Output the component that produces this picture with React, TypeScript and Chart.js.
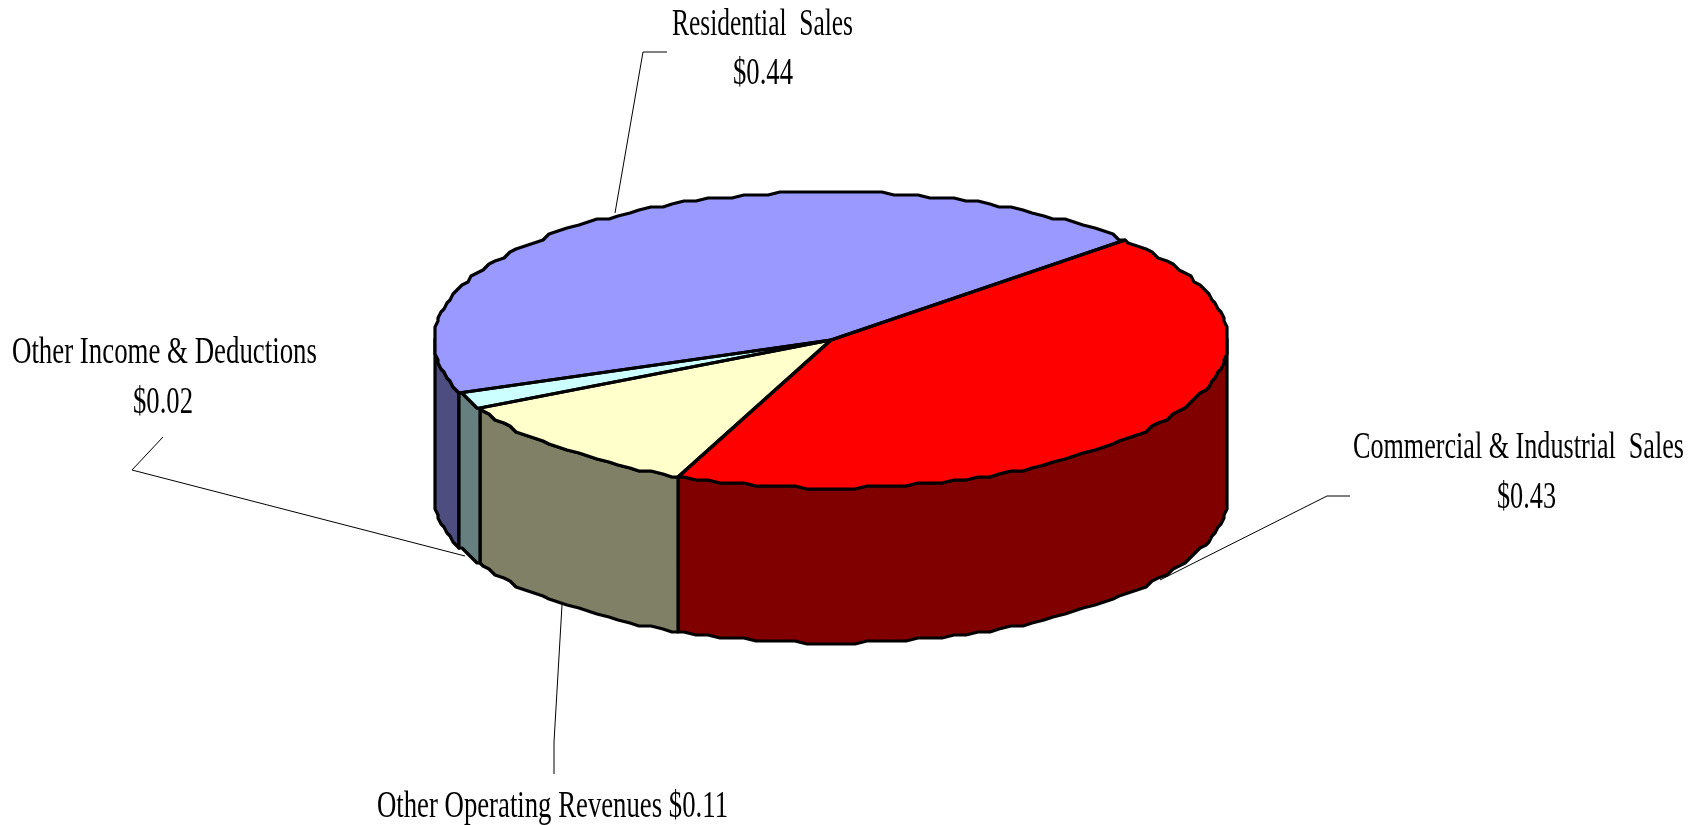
import React, { useEffect, useRef } from "react";
import { Chart, registerables } from "chart.js";

Chart.register(...registerables);

// Revenue per dollar, clockwise from the Residential slice
const categories = [
  "Residential  Sales",
  "Commercial & Industrial  Sales",
  "Other Operating Revenues",
  "Other Income & Deductions",
];
const revenue = [0.44, 0.43, 0.11, 0.02];

const faceColors = ["#9999FF", "#FF0000", "#FFFFCC", "#CCFFFF"];
const wallColors = ["#4D4D80", "#800000", "#808066", "#668080"];

const WIDTH = 1703;
const HEIGHT = 825;

// Tilted-disc projection of the flat pie
const DISC_X = 831;
const DISC_Y = 340;
const RIM_X = 397;
const RIM_Y = 148;
const DEPTH = 155;
const SQUASH = RIM_Y / RIM_X;
const PIE_RADIUS = 400;
const SNAP = 3;
const STEP = (1.8 * Math.PI) / 180;
const EDGE = 3.2;

const FONT = '37px "Liberation Serif"';

const money = (v: number) => "$" + v.toFixed(2);

// One entry per line of caption: text, left edge, baseline, fitted width
const captions = [
  { text: categories[0], x: 672, y: 35, w: 181 },
  { text: money(revenue[0]), x: 733, y: 84, w: 60 },
  { text: categories[1], x: 1353, y: 458, w: 331 },
  { text: money(revenue[1]), x: 1497, y: 508, w: 59 },
  { text: categories[3], x: 12, y: 363, w: 305 },
  { text: money(revenue[3]), x: 133, y: 413, w: 60 },
  { text: categories[2] + " " + money(revenue[2]), x: 377, y: 817, w: 351 },
];

const leaders = [
  [[615, 213], [643, 52], [667, 52]],
  [[1160, 580], [1327, 496], [1350, 496]],
  [[465, 556], [132, 470], [163, 437]],
  [[562, 605], [554, 742], [554, 774]],
];

// Rim outline is a coarse polygon: vertices sit on a small grid
function rimPoint(a: number, drop = 0): [number, number] {
  const x = DISC_X + RIM_X * Math.cos(a);
  const y = DISC_Y + RIM_Y * Math.sin(a);
  return [Math.round(x / SNAP) * SNAP, Math.round(y / SNAP) * SNAP + drop];
}

function rimPath(a: number, b: number, drop = 0): [number, number][] {
  const pts: [number, number][] = [rimPoint(a, drop)];
  let k = Math.floor(a / STEP) + 1;
  while (k * STEP < b) {
    pts.push(rimPoint(k * STEP, drop));
    k++;
  }
  pts.push(rimPoint(b, drop));
  return pts;
}

function trace(ctx: CanvasRenderingContext2D, pts: [number, number][], move = true) {
  pts.forEach((p, i) => {
    if (i === 0 && move) ctx.moveTo(p[0], p[1]);
    else ctx.lineTo(p[0], p[1]);
  });
}

const discPlugin = {
  id: "tiltedDisc",
  beforeDatasetsDraw(chart: any) {
    const ctx: CanvasRenderingContext2D = chart.ctx;
    const arcs = chart.getDatasetMeta(0).data;
    ctx.save();
    ctx.lineJoin = "round";
    ctx.lineWidth = EDGE;
    ctx.strokeStyle = "#000";

    // Side walls: the part of each slice facing the viewer
    arcs.forEach((arc: any, i: number) => {
      for (let n = -2; n <= 2; n++) {
        const lo = Math.max(arc.startAngle, n * 2 * Math.PI);
        const hi = Math.min(arc.endAngle, n * 2 * Math.PI + Math.PI);
        if (hi <= lo) continue;
        ctx.beginPath();
        trace(ctx, rimPath(lo, hi));
        trace(ctx, rimPath(lo, hi, DEPTH).reverse(), false);
        ctx.closePath();
        ctx.fillStyle = wallColors[i];
        ctx.fill();
        ctx.stroke();
      }
    });
    ctx.restore();

    // Faces come from the library's arcs, flattened and trimmed to the rim
    const a0 = arcs[0];
    ctx.save();
    ctx.beginPath();
    trace(ctx, rimPath(0, 2 * Math.PI));
    ctx.closePath();
    ctx.clip();
    ctx.translate(0, DISC_Y);
    ctx.scale(1, SQUASH);
    ctx.translate(DISC_X - a0.x, -a0.y);
  },
  afterDatasetsDraw(chart: any) {
    const ctx: CanvasRenderingContext2D = chart.ctx;
    ctx.restore();

    const arcs = chart.getDatasetMeta(0).data;
    ctx.save();
    ctx.lineJoin = "round";
    ctx.lineWidth = EDGE;
    ctx.strokeStyle = "#000";
    arcs.forEach((arc: any) => {
      ctx.beginPath();
      ctx.moveTo(DISC_X, DISC_Y);
      trace(ctx, rimPath(arc.startAngle, arc.endAngle), false);
      ctx.closePath();
      ctx.stroke();
    });

    ctx.lineWidth = 1;
    leaders.forEach((line) => {
      ctx.beginPath();
      line.forEach((p, i) => (i === 0 ? ctx.moveTo(p[0], p[1]) : ctx.lineTo(p[0], p[1])));
      ctx.stroke();
    });

    ctx.font = FONT;
    ctx.fillStyle = "#000";
    ctx.textAlign = "left";
    ctx.textBaseline = "alphabetic";
    captions.forEach((c) => ctx.fillText(c.text, c.x, c.y, c.w));
    ctx.restore();
  },
};

export default function App() {
  const ref = useRef<HTMLCanvasElement>(null);

  useEffect(() => {
    const chart = new Chart(ref.current as HTMLCanvasElement, {
      type: "pie",
      data: {
        labels: categories,
        datasets: [
          {
            data: revenue,
            backgroundColor: faceColors,
            borderWidth: 0,
            clip: false,
          } as any,
        ],
      },
      options: {
        animation: false,
        responsive: false,
        devicePixelRatio: 1,
        rotation: 249.5,
        layout: {
          padding: {
            left: DISC_X - PIE_RADIUS,
            right: WIDTH - DISC_X - PIE_RADIUS,
            top: (HEIGHT - 2 * PIE_RADIUS) / 2,
            bottom: (HEIGHT - 2 * PIE_RADIUS) / 2,
          },
        },
        plugins: { legend: { display: false }, tooltip: { enabled: false } },
      },
      plugins: [discPlugin],
    });
    return () => chart.destroy();
  }, []);

  return (
    <div style={{ position: "absolute", left: 0, top: 0, background: "#fff" }}>
      <canvas ref={ref} width={WIDTH} height={HEIGHT} style={{ display: "block" }} />
    </div>
  );
}
